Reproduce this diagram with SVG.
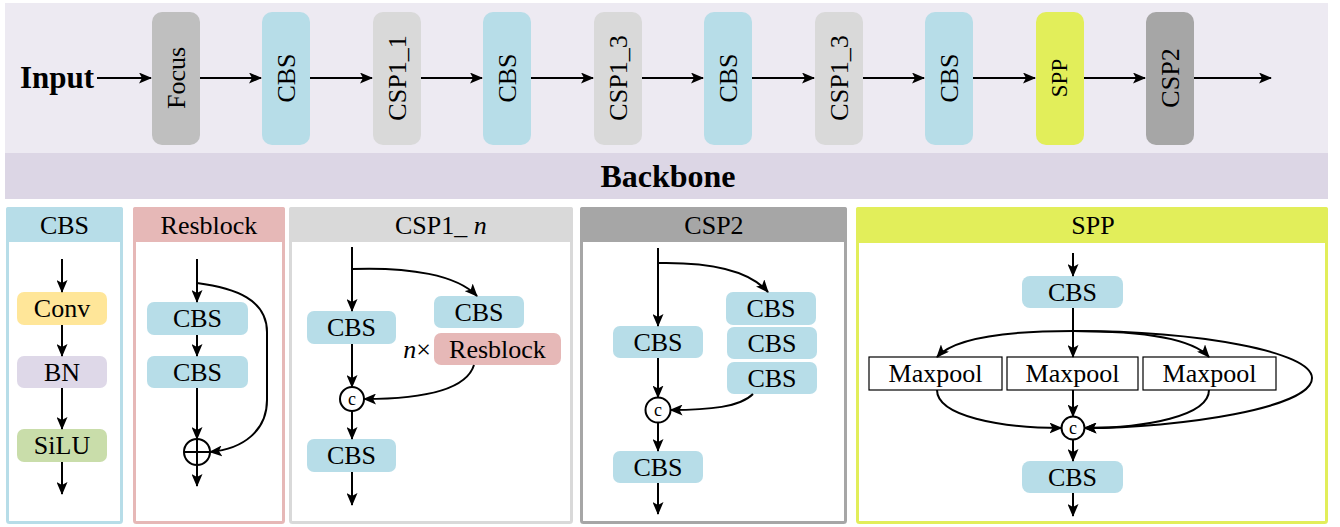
<svg xmlns="http://www.w3.org/2000/svg" width="1340" height="527" viewBox="0 0 1340 527">
<defs>
<marker id="ah" markerUnits="userSpaceOnUse" markerWidth="13" markerHeight="11" refX="12" refY="5.5" orient="auto">
<path d="M0,0 L13,5.5 L0,11 L3,5.5 z" fill="#000"/>
</marker>
<style>
text{font-family:"Liberation Serif","Times New Roman",serif;fill:#000}
.t{font-size:26px;text-anchor:middle}
.b{font-weight:bold}
.k{font-size:18px;text-anchor:middle}
.c{fill:none;stroke:#000;stroke-width:2;marker-end:url(#ah)}
.l{fill:none;stroke:#000;stroke-width:2}
.cbs{fill:#B7DDE8}
.csp1{fill:#D9D9D9}
.res{fill:#E6B8B7}
.mp{fill:#fff;stroke:#000;stroke-width:1.2}
.cat{fill:#fff;stroke:#000;stroke-width:2}
</style>
</defs>
<rect width="1340" height="527" fill="#fff"/>
<!-- Backbone area -->
<rect x="5" y="3" width="1323" height="150" fill="#EDEAF2"/>
<rect x="5" y="153" width="1323" height="46" fill="#DCD6E5"/>
<text x="668" y="187" style="font-size:32px;text-anchor:middle" class="b">Backbone</text>
<text x="20" y="88" style="font-size:31px" class="b">Input</text>

<g id="top-focus"><rect x="152" y="12" width="48" height="133" rx="10" fill="#BFBFBF"/><text class="t" transform="translate(185,78) rotate(-90)">Focus</text></g>
<g id="top-cbs1"><rect x="262" y="12" width="48" height="133" rx="10" class="cbs"/><text class="t" transform="translate(295,78) rotate(-90)">CBS</text></g>
<g id="top-csp1-1"><rect x="373" y="12" width="48" height="133" rx="10" class="csp1"/><text class="t" transform="translate(406,78) rotate(-90)">CSP1_1</text></g>
<g id="top-cbs2"><rect x="483" y="12" width="48" height="133" rx="10" class="cbs"/><text class="t" transform="translate(516,78) rotate(-90)">CBS</text></g>
<g id="top-csp1-3a"><rect x="594" y="12" width="48" height="133" rx="10" class="csp1"/><text class="t" transform="translate(627,78) rotate(-90)">CSP1_3</text></g>
<g id="top-cbs3"><rect x="704" y="12" width="48" height="133" rx="10" class="cbs"/><text class="t" transform="translate(737,78) rotate(-90)">CBS</text></g>
<g id="top-csp1-3b"><rect x="815" y="12" width="48" height="133" rx="10" class="csp1"/><text class="t" transform="translate(848,78) rotate(-90)">CSP1_3</text></g>
<g id="top-cbs4"><rect x="925" y="12" width="48" height="133" rx="10" class="cbs"/><text class="t" transform="translate(958,78) rotate(-90)">CBS</text></g>
<g id="top-spp"><rect x="1036" y="12" width="48" height="133" rx="10" fill="#E2EE5A"/><text class="t" style="font-size:23px" transform="translate(1067,78) rotate(-90)">SPP</text></g>
<g id="top-csp2"><rect x="1146" y="12" width="48" height="133" rx="10" fill="#A6A6A6"/><text class="t" transform="translate(1179,78) rotate(-90)">CSP2</text></g>

<!-- Panel: CBS -->
<g id="panel-cbs">
<rect x="7.5" y="208.5" width="114" height="314" rx="2" fill="#fff" stroke="#B7DDE8" stroke-width="3"/>
<rect x="6" y="207" width="117" height="35" rx="2" fill="#B7DDE8"/>
<text class="t" x="64.5" y="234">CBS</text>
<g id="cbs-conv"><rect x="17" y="292" width="90" height="33" rx="7" fill="#FFE699"/><text class="t" x="62" y="317">Conv</text></g>
<g id="cbs-bn"><rect x="17" y="356" width="90" height="32" rx="7" fill="#DED8E8"/><text class="t" x="62" y="380.5">BN</text></g>
<g id="cbs-silu"><rect x="17" y="429" width="90" height="33" rx="7" fill="#C9DDAA"/><text class="t" x="62" y="454">SiLU</text></g>
</g>

<!-- Panel: Resblock -->
<g id="panel-resblock">
<rect x="134.5" y="208.5" width="149" height="314" rx="2" fill="#fff" stroke="#E6B8B7" stroke-width="3"/>
<rect x="133" y="207" width="152" height="35" rx="2" fill="#E6B8B7"/>
<text class="t" x="209" y="234">Resblock</text>
<g id="res-cbs1"><rect x="147" y="302" width="101" height="33" rx="7" class="cbs"/><text class="t" x="197.5" y="327">CBS</text></g>
<g id="res-cbs2"><rect x="147" y="356" width="101" height="32" rx="7" class="cbs"/><text class="t" x="197.5" y="380.5">CBS</text></g>
<g id="res-add"><circle cx="197" cy="452" r="13" class="cat"/><path d="M184,452 H210 M197,439 V465" class="l"/></g>
</g>

<!-- Panel: CSP1_n -->
<g id="panel-csp1">
<rect x="290.5" y="208.5" width="281" height="314" rx="2" fill="#fff" stroke="#D9D9D9" stroke-width="3"/>
<rect x="289" y="207" width="284" height="35" rx="2" fill="#D9D9D9"/>
<text style="font-size:26px" x="395" y="234">CSP1_ <tspan font-style="italic">n</tspan></text>
<g id="csp1-cbs-left"><rect x="307" y="311" width="89" height="33" rx="7" class="cbs"/><text class="t" x="351.5" y="336">CBS</text></g>
<g id="csp1-cbs-right"><rect x="434" y="296" width="90" height="32" rx="7" class="cbs"/><text class="t" x="479" y="320.5">CBS</text></g>
<g id="csp1-resblock"><rect x="434" y="333" width="127" height="32" rx="7" class="res"/><text class="t" x="497.5" y="357.5">Resblock</text></g>
<text style="font-size:26px;text-anchor:end" x="431" y="358"><tspan font-style="italic">n</tspan>×</text>
<g id="csp1-cat"><circle cx="352" cy="399" r="12" class="cat"/><text class="k" x="352" y="404.5">c</text></g>
<g id="csp1-cbs-bottom"><rect x="307" y="439" width="89" height="33" rx="7" class="cbs"/><text class="t" x="351.5" y="464">CBS</text></g>
</g>

<!-- Panel: CSP2 -->
<g id="panel-csp2">
<rect x="581.5" y="208.5" width="264" height="314" rx="2" fill="#fff" stroke="#A6A6A6" stroke-width="3"/>
<rect x="580" y="207" width="267" height="35" rx="2" fill="#A6A6A6"/>
<text class="t" x="714" y="234">CSP2</text>
<g id="csp2-cbs-left"><rect x="613" y="326" width="90" height="32" rx="7" class="cbs"/><text class="t" x="658" y="350.5">CBS</text></g>
<g id="csp2-cbs-r1"><rect x="726" y="292" width="90" height="33" rx="7" class="cbs"/><text class="t" x="771" y="317">CBS</text></g>
<g id="csp2-cbs-r2"><rect x="727" y="327" width="90" height="32" rx="7" class="cbs"/><text class="t" x="772" y="351.5">CBS</text></g>
<g id="csp2-cbs-r3"><rect x="727" y="362" width="90" height="32" rx="7" class="cbs"/><text class="t" x="772" y="386.5">CBS</text></g>
<g id="csp2-cat"><circle cx="658" cy="410" r="12.5" class="cat"/><text class="k" x="658" y="415.5">c</text></g>
<g id="csp2-cbs-bottom"><rect x="613" y="451" width="90" height="32" rx="7" class="cbs"/><text class="t" x="658" y="475.5">CBS</text></g>
</g>

<!-- Panel: SPP -->
<g id="panel-spp">
<rect x="857.5" y="208.5" width="469" height="314" rx="2" fill="#fff" stroke="#E2EE5A" stroke-width="3"/>
<rect x="856" y="207" width="472" height="36" rx="2" fill="#E2EE5A"/>
<text class="t" x="1093" y="234">SPP</text>
<g id="spp-cbs-top"><rect x="1022" y="276" width="101" height="32" rx="8" class="cbs"/><text class="t" x="1072.5" y="300.5">CBS</text></g>
<g id="spp-mp1"><rect x="869" y="357" width="133" height="33" class="mp"/><text class="t" x="935.5" y="382">Maxpool</text></g>
<g id="spp-mp2"><rect x="1007" y="357" width="131" height="33" class="mp"/><text class="t" x="1072.5" y="382">Maxpool</text></g>
<g id="spp-mp3"><rect x="1143" y="357" width="133" height="33" class="mp"/><text class="t" x="1209.5" y="382">Maxpool</text></g>
<g id="spp-cat"><circle cx="1073" cy="428" r="11.5" class="cat"/><text class="k" x="1073" y="433.5">c</text></g>
<g id="spp-cbs-bottom"><rect x="1022" y="461" width="101" height="32" rx="8" class="cbs"/><text class="t" x="1072.5" y="485.5">CBS</text></g>
</g>

<!-- Connectors -->
<g id="connectors">
<path class="c" d="M97,78 H151"/>
<path class="c" d="M200,78 H261"/>
<path class="c" d="M310,78 H372"/>
<path class="c" d="M421,78 H482"/>
<path class="c" d="M531,78 H593"/>
<path class="c" d="M642,78 H703"/>
<path class="c" d="M752,78 H814"/>
<path class="c" d="M863,78 H924"/>
<path class="c" d="M973,78 H1035"/>
<path class="c" d="M1084,78 H1145"/>
<path class="c" d="M1194,78 H1271"/>
<!-- CBS panel -->
<path class="c" d="M62,259 V292"/>
<path class="c" d="M62,325 V356"/>
<path class="c" d="M62,388 V429"/>
<path class="c" d="M62,462 V494"/>
<!-- Resblock -->
<path class="c" d="M197,259 V302"/>
<path class="c" d="M197,335 V356"/>
<path class="c" d="M197,388 V439"/>
<path class="c" d="M197,465 V486"/>
<path class="c" d="M197,283 C236,288 267,300 267,332 L267,400 C267,430 244,449 210,452"/>
<!-- CSP1 -->
<path class="c" d="M352,247 V311"/>
<path class="c" d="M352,269 C410,267 457,275 477,296"/>
<path class="c" d="M352,344 V387"/>
<path class="c" d="M474,365 C466,391 420,399 364,399"/>
<path class="c" d="M352,411 V439"/>
<path class="c" d="M352,472 V505"/>
<!-- CSP2 -->
<path class="c" d="M658,248 V326"/>
<path class="c" d="M658,263 C710,262 749,270 768,292"/>
<path class="c" d="M658,358 V397.5"/>
<path class="c" d="M753,394 C740,407 710,410 670.5,410"/>
<path class="c" d="M658,422.5 V451"/>
<path class="c" d="M658,483 V514"/>
<!-- SPP -->
<path class="c" d="M1073,253 V276"/>
<path class="c" d="M1073,308 V357"/>
<path class="c" d="M1073,331 C1010,331 955,337 937,357"/>
<path class="c" d="M1073,331 C1136,331 1191,337 1209,357"/>
<path class="c" d="M1073,331 C1200,331 1312,352 1312,378 C1312,408 1180,428 1084.5,428"/>
<path class="c" d="M1073,390 V416.5"/>
<path class="c" d="M937,390 C937,416 1000,428 1061.5,428"/>
<path class="c" d="M1209,390 C1209,416 1146,428 1084.5,428"/>
<path class="c" d="M1073,439.5 V461"/>
<path class="c" d="M1073,493 V516"/>
</g>
</svg>
